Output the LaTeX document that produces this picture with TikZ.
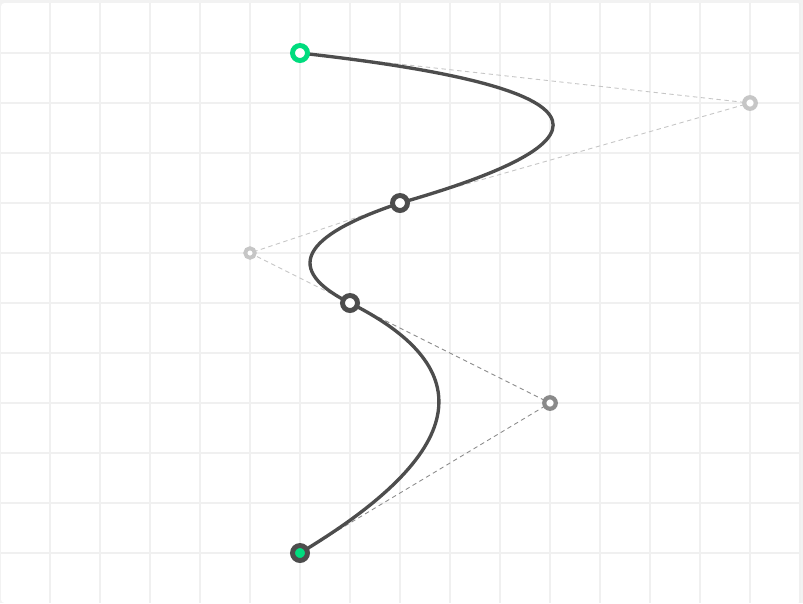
\documentclass[tikz,border=0pt]{standalone}
\usetikzlibrary{calc}
\definecolor{bandgray}{HTML}{F2F2F2}
\definecolor{gridgray}{HTML}{F0F0F0}
\definecolor{curvegray}{HTML}{4D4D4D}
\definecolor{handlelight}{HTML}{C6C6C6}
\definecolor{handledark}{HTML}{8A8A8A}
\definecolor{pointgreen}{HTML}{00DC7E}
\begin{document}
\begin{tikzpicture}[x=0.02cm,y=-0.02cm,
  gridline/.style={gridgray,line width=0.7pt},
  guide/.style={handlelight,line width=0.5pt,dash pattern=on 2.5pt off 2pt},
  guidedark/.style={guide,handledark},
  curve/.style={curvegray,line width=1.9pt},
  knot/.style={circle,draw=curvegray,fill=white,line width=2.8pt,minimum size=0.3cm,inner sep=0pt},
  startknot/.style={knot,draw=pointgreen},
  endknot/.style={knot,fill=pointgreen},
  handle/.style={circle,draw=handlelight,fill=white,line width=2.4pt,minimum size=0.23cm,inner sep=0pt},
  handledk/.style={handle,draw=handledark}]

\useasboundingbox (0,0) rectangle (803,603);
\fill[bandgray] (0,0) rectangle (803,603);
\fill[white,rounded corners=2pt] (1,3) rectangle (801,603);

\foreach \x in {50,100,...,800}
  \draw[gridline] (\x,3) -- (\x,603);
\foreach \y in {53,103,...,553}
  \draw[gridline] (1,\y) -- (801,\y);

\coordinate (p0) at (300,53);
\coordinate (c1) at (750,103);
\coordinate (p1) at (400,203);
\coordinate (c2) at (250,253);
\coordinate (p2) at (350,303);
\coordinate (c3) at (550,403);
\coordinate (p3) at (300,553);

\draw[guide] (p0) -- (c1) -- (p1);
\draw[guide] (p1) -- (c2) -- (p2);
\draw[guidedark] (p2) -- (c3) -- (p3);

% quadratic pieces as cubics
\draw[curve] (p0) .. controls ($(p0)!2/3!(c1)$) and ($(p1)!2/3!(c1)$) .. (p1)
  .. controls ($(p1)!2/3!(c2)$) and ($(p2)!2/3!(c2)$) .. (p2)
  .. controls ($(p2)!2/3!(c3)$) and ($(p3)!2/3!(c3)$) .. (p3);

\node[handle] (h1) at (c1) {};
\node[handle,minimum size=0.19cm,line width=2.2pt] (h2) at (c2) {};
\node[handledk] (h3) at (c3) {};
\node[startknot] (k0) at (p0) {};
\node[knot] (k1) at (p1) {};
\node[knot] (k2) at (p2) {};
\node[endknot] (k3) at (p3) {};

\end{tikzpicture}
\end{document}
